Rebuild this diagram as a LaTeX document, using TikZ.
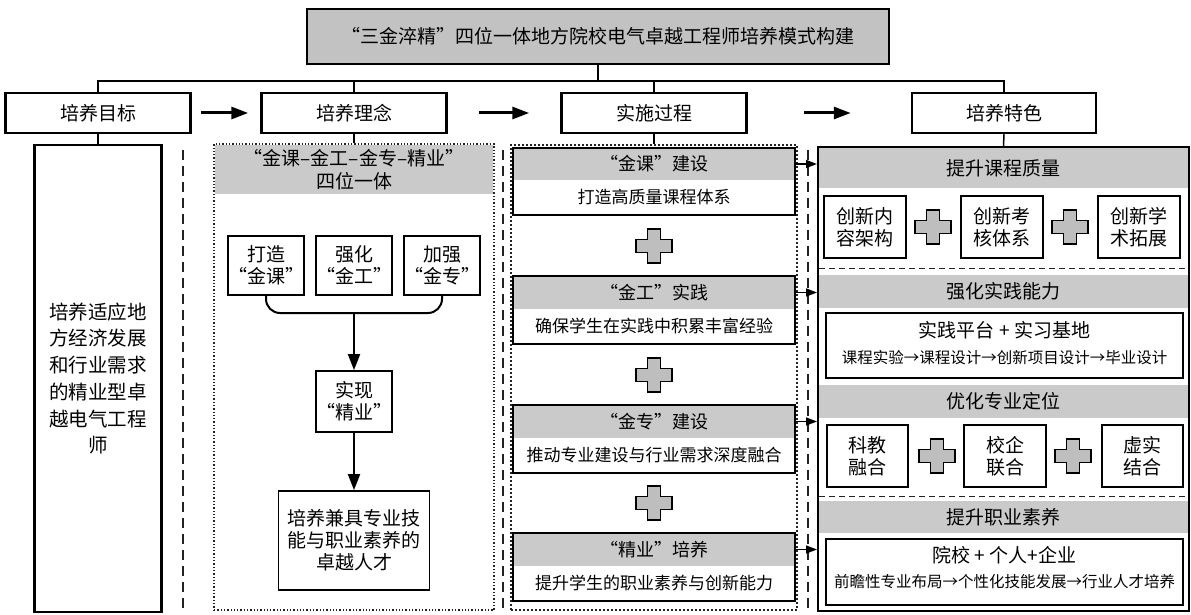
\documentclass[tikz,border=0pt]{standalone}
\usepackage{fontspec}
\setmainfont{Noto Sans CJK SC}
\usepackage{tikz}
\usepackage{xcolor}
\usetikzlibrary{arrows.meta}
\definecolor{Mode_Gray}{HTML}{C2C2C2}
\definecolor{Mode_Band}{HTML}{CACACA}
\definecolor{Mode_Plus}{HTML}{BEBEBE}
\definecolor{Mode_Line}{HTML}{222222}
\newcommand{\mainsize}{\fontsize{19pt}{22pt}\selectfont}
\newcommand{\tallsize}{\fontsize{19.5pt}{26.7pt}\selectfont}
\newcommand{\stagesize}{\fontsize{18pt}{22pt}\selectfont}
\newcommand{\notesize}{\fontsize{17pt}{20pt}\selectfont}
\newcommand{\chainsize}{\fontsize{15.5pt}{18pt}\selectfont}

\tikzset{
  box/.style={draw, line width=2pt, align=center, inner sep=0pt},
  band/.style={fill=Mode_Band, inner sep=0pt, align=center},
  flow/.style={line width=3pt, -{Triangle[length=17pt,width=12pt]}},
  link/.style={line width=2pt, -{Triangle[length=16pt,width=12pt]}},
  feed/.style={line width=1.5pt, -{Triangle[length=11pt,width=8pt]}},
  divider/.style={line width=1.2pt, draw=Mode_Line, dash pattern=on 10pt off 6pt},
  frame/.style={draw=Mode_Line, dotted, inner sep=0pt},
  crossmark/.pic={
    \draw[fill=Mode_Plus, line width=1.5pt] (-6.5,-17) -- (6.5,-17) -- (6.5,-6.5) -- (18,-6.5)
      -- (18,6.5) -- (6.5,6.5) -- (6.5,17) -- (-6.5,17) -- (-6.5,6.5) -- (-18,6.5)
      -- (-18,-6.5) -- (-6.5,-6.5) -- cycle;
  }
}

\begin{document}
\begin{tikzpicture}[x=1pt, y=-1pt]
    \useasboundingbox (0,0) rectangle (1191,615);

    % Title and level 2
    \node[box, fill=Mode_Gray, minimum width=582pt, minimum height=55pt, font=\mainsize] (title) at (598,36.5) {“三金淬精”四位一体地方院校电气卓越工程师培养模式构建};
    \node[box, line width=2.5pt, minimum width=185pt, minimum height=40pt, font=\mainsize] (goal) at (98,113) {培养目标};
    \node[box, line width=2.5pt, minimum width=185pt, minimum height=40pt, font=\mainsize] (idea) at (354,113) {培养理念};
    \node[box, line width=2.5pt, minimum width=185pt, minimum height=40pt, font=\mainsize] (proc) at (654,113) {实施过程};
    \node[box, line width=2.5pt, minimum width=184pt, minimum height=40pt, font=\mainsize] (trait) at (1004,113) {培养特色};
    \coordinate (busL) at (98,81);
    \draw[line width=1.5pt] (goal.north) |- (trait.north |- busL) -- (trait.north);
    \draw[line width=1.5pt] (title.south) -- (title.south |- busL);
    \draw[line width=1.5pt] (idea.north) -- (idea.north |- busL);
    \draw[line width=1.5pt] (proc.north) -- (proc.north |- busL);
    \draw[flow, shorten <=9pt, shorten >=12pt] (goal) -- (idea);
    \draw[flow, shorten <=31pt, shorten >=31pt] (idea) -- (proc);
    \draw[flow, shorten <=56pt, shorten >=60pt] (proc) -- (trait);

    % Separators
    \draw[divider] (183,150) -- (183,612);
    \draw[divider] (503,150) -- (503,612);
    \draw[divider] (808,150) -- (808,612);

    % Column 1
    \node[box, line width=2.5pt, minimum width=127pt, minimum height=467pt, font=\tallsize] (aim) at (98,378.5) {培养适应地\\方经济发展\\和行业需求\\的精业型卓\\越电气工程\\师};
    \draw[line width=1.5pt] (goal.south) -- (aim.north);

    % Column 2
    \node[band, minimum width=278pt, minimum height=49pt, font=\mainsize] (ideahead) at (354,169.5) {“金课–金工–金专–精业”\\[1pt]四位一体};
    \node[frame, line width=1.3pt, minimum width=280pt, minimum height=466pt] (ideabox) at (354,377) {};
    \draw[line width=1.5pt] (idea.south) -- (ideabox.north);
    \node[box, line width=1.8pt, minimum width=74pt, minimum height=59pt, font=\mainsize] (forge) at (266,265.5) {打造\\“金课”};
    \node[box, line width=1.8pt, minimum width=74pt, minimum height=59pt, font=\mainsize] (strong) at (354,265.5) {强化\\“金工”};
    \node[box, line width=1.8pt, minimum width=74pt, minimum height=59pt, font=\mainsize] (boost) at (442,265.5) {加强\\“金专”};
    \coordinate (merge) at (354,313);
    \draw[line width=2pt, rounded corners=14pt] (forge.south) |- (merge) -| (boost.south);
    \node[box, line width=1.8pt, minimum width=74pt, minimum height=61pt, font=\mainsize] (real) at (354,401.5) {实现\\“精业”};
    \node[box, line width=1.8pt, minimum width=151pt, minimum height=99pt, font=\mainsize] (talent) at (354,540.5) {培养兼具专业技\\能与职业素养的\\卓越人才};
    \draw[link] (merge) -- (real.north);
    \draw[link] (real) -- (talent);

    % Column 3
    \node[frame, line width=2pt, minimum width=286pt, minimum height=465pt] (procbox) at (654,377.5) {};
    \draw[line width=1.5pt] (proc.south) -- (procbox.north);
    % Stage 1
    \node[band, minimum width=282pt, minimum height=32pt, font=\stagesize] (gold1) at (654,164) {“金课”建设};
    \node[inner sep=0pt, minimum width=282pt, minimum height=35pt, font=\notesize] (gold1t) at (654,197.5) {打造高质量课程体系};
    \draw[line width=1.8pt] (gold1.north west) rectangle (gold1t.south east);
    \pic at (654,246) {crossmark};
    % Stage 2
    \node[band, minimum width=282pt, minimum height=32pt, font=\stagesize] (gold2) at (654,292.5) {“金工”实践};
    \node[inner sep=0pt, minimum width=282pt, minimum height=35pt, font=\notesize] (gold2t) at (654,326) {确保学生在实践中积累丰富经验};
    \draw[line width=1.8pt] (gold2.north west) rectangle (gold2t.south east);
    \pic at (654,375) {crossmark};
    % Stage 3
    \node[band, minimum width=282pt, minimum height=32pt, font=\stagesize] (gold3) at (654,421.5) {“金专”建设};
    \node[inner sep=0pt, minimum width=282pt, minimum height=35pt, font=\notesize] (gold3t) at (654,455) {推动专业建设与行业需求深度融合};
    \draw[line width=1.8pt] (gold3.north west) rectangle (gold3t.south east);
    \pic at (654,503) {crossmark};
    % Stage 4
    \node[band, minimum width=282pt, minimum height=32pt, font=\stagesize] (gold4) at (654,549.5) {“精业”培养};
    \node[inner sep=0pt, minimum width=282pt, minimum height=35pt, font=\notesize] (gold4t) at (654,583) {提升学生的职业素养与创新能力};
    \draw[line width=1.8pt] (gold4.north west) rectangle (gold4t.south east);

    % Column 4
    \node[band, minimum width=369pt, minimum height=40pt, font=\mainsize] (quality) at (1003.5,168) {提升课程质量};
    \node[box, line width=1.8pt, minimum width=82pt, minimum height=62pt, font=\mainsize] (q1) at (865,227) {创新内\\容架构};
    \node[box, line width=1.8pt, minimum width=82pt, minimum height=62pt, font=\mainsize] (q2) at (1002,227) {创新考\\核体系};
    \node[box, line width=1.8pt, minimum width=82pt, minimum height=62pt, font=\mainsize] (q3) at (1139,227) {创新学\\术拓展};
    \pic at (933,227) {crossmark};
    \pic at (1070,227) {crossmark};
    \draw[divider, line width=1pt, dash pattern=on 6pt off 4pt] (819,268) -- (1188,268);

    \node[band, minimum width=369pt, minimum height=33pt, font=\mainsize] (practice) at (1003.5,291) {强化实践能力};
    \node[box, line width=1.8pt, minimum width=357pt, minimum height=65pt] (platform) at (1004.5,345.5) {};
    \node[font=\mainsize, inner sep=0pt] (platformA) at (1004.5,330) {实践平台 + 实习基地};
    \node[font=\chainsize, inner sep=0pt] (platformB) at (1004.5,358) {课程实验→课程设计→创新项目设计→毕业设计};

    \node[band, minimum width=369pt, minimum height=33pt, font=\mainsize] (position) at (1003.5,401.5) {优化专业定位};
    \node[box, line width=1.8pt, minimum width=81pt, minimum height=62pt, font=\mainsize] (p1) at (867.5,456) {科教\\融合};
    \node[box, line width=1.8pt, minimum width=82pt, minimum height=62pt, font=\mainsize] (p2) at (1005,456) {校企\\联合};
    \node[box, line width=1.8pt, minimum width=81pt, minimum height=62pt, font=\mainsize] (p3) at (1142.5,456) {虚实\\结合};
    \pic at (937,456) {crossmark};
    \pic at (1073,456) {crossmark};
    \draw[divider, line width=1pt, dash pattern=on 6pt off 4pt] (819,496) -- (1188,496);

    \node[band, minimum width=369pt, minimum height=32pt, font=\mainsize] (literacy) at (1003.5,517) {提升职业素养};
    \node[box, line width=1.8pt, minimum width=357pt, minimum height=66pt] (career) at (1004.5,572) {};
    \node[font=\mainsize, inner sep=0pt] (careerA) at (1004.5,555) {院校 + 个人+企业};
    \node[font=\chainsize, inner sep=0pt] (careerB) at (1004.5,582) {前瞻性专业布局→个性化技能发展→行业人才培养};

    \node[draw, line width=2pt, minimum width=371pt, minimum height=464pt] (traitbox) at (1003.5,379) {};
    \draw[line width=1.5pt] (trait.south) -- (traitbox.north);

    % Stages to features
    \draw[feed] (gold1.east) -- (gold1.east -| traitbox.west);
    \draw[feed] (gold2.east) -- (gold2.east -| traitbox.west);
    \draw[feed] (gold3.east) -- (gold3.east -| traitbox.west);
    \draw[feed] (gold4.east) -- (gold4.east -| traitbox.west);
\end{tikzpicture}
\end{document}
